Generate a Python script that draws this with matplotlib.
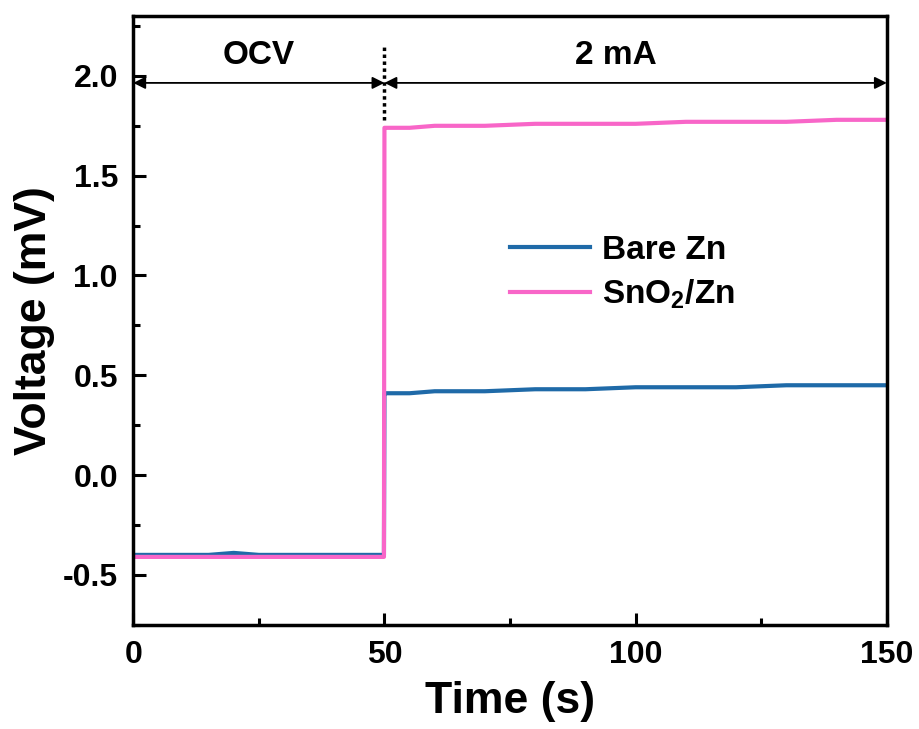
import matplotlib.pyplot as plt
from matplotlib.ticker import MultipleLocator

plt.rcParams['font.family'] = ['Liberation Sans', 'DejaVu Sans']
plt.rcParams['font.weight'] = 'bold'
plt.rcParams['axes.unicode_minus'] = False
plt.rcParams['mathtext.fontset'] = 'custom'
plt.rcParams['mathtext.bf'] = 'Liberation Sans:bold'

# time (s) and voltage (mV)
time_bare = [0, 5, 10, 15, 20, 25, 30, 35, 40, 45, 49.9, 50, 50.1, 55, 60, 70, 80, 90, 100, 110, 120, 130, 140, 150]
volt_bare = [-0.40, -0.40, -0.40, -0.40, -0.39, -0.40, -0.40, -0.40, -0.40, -0.40, -0.40,
             0.41, 0.41, 0.41, 0.42, 0.42, 0.43, 0.43, 0.44, 0.44, 0.44, 0.45, 0.45, 0.45]
time_sno2 = [0, 5, 10, 15, 20, 25, 30, 35, 40, 45, 49.9, 50, 50.1, 55, 60, 70, 80, 90, 100, 110, 120, 130, 140, 150]
volt_sno2 = [-0.41, -0.41, -0.41, -0.41, -0.41, -0.41, -0.41, -0.41, -0.41, -0.41, -0.41,
             1.74, 1.74, 1.74, 1.75, 1.75, 1.76, 1.76, 1.76, 1.77, 1.77, 1.77, 1.78, 1.78]

fig = plt.figure(figsize=(9.19, 7.29), dpi=100)
ax = fig.add_axes([0.145, 0.143, 0.82, 0.835])

ax.plot(time_bare, volt_bare, color='#1f6aa8', lw=3, label='Bare Zn')
ax.plot(time_sno2, volt_sno2, color='#f866c8', lw=3, label=r'SnO$_\mathbf{2}$/Zn')

# OCV / 2 mA region markers
ax.plot([50, 50], [1.78, 2.16], color='black', lw=2.5, ls=(0, (1, 1)))
ax.annotate('', xy=(0, 1.965), xytext=(50, 1.965),
            arrowprops=dict(arrowstyle='<|-|>', color='black', lw=1.3, mutation_scale=18, shrinkA=0, shrinkB=0))
ax.annotate('', xy=(50, 1.965), xytext=(150, 1.965),
            arrowprops=dict(arrowstyle='<|-|>', color='black', lw=1.3, mutation_scale=18, shrinkA=0, shrinkB=0))
ax.text(25, 2.1, 'OCV', ha='center', va='center', fontsize=24, fontweight='bold')
ax.text(96, 2.1, '2 mA', ha='center', va='center', fontsize=24, fontweight='bold')

ax.set_xlim(0, 150)
ax.set_ylim(-0.75, 2.3)
ax.set_xticks([0, 50, 100, 150])
ax.set_yticks([-0.5, 0.0, 0.5, 1.0, 1.5, 2.0])
ax.xaxis.set_minor_locator(MultipleLocator(25))
ax.yaxis.set_minor_locator(MultipleLocator(0.25))
ax.tick_params(which='both', direction='in', width=2.2, labelsize=23)
ax.tick_params(which='major', length=9)
ax.tick_params(which='minor', length=5)
ax.tick_params(axis='x', which='major', pad=11)
ax.tick_params(axis='y', which='major', pad=11)
for s in ax.spines.values():
    s.set_linewidth(2.5)

ax.set_xlabel('Time (s)', fontsize=32, fontweight='bold', labelpad=8)
ax.set_ylabel('Voltage (mV)', fontsize=32, fontweight='bold', labelpad=6)

leg = ax.legend(loc='upper left', bbox_to_anchor=(0.46, 0.69), frameon=False,
                fontsize=24, handlelength=2.4, labelspacing=0.35, handletextpad=0.36)

fig.savefig('out.png', dpi=100)
